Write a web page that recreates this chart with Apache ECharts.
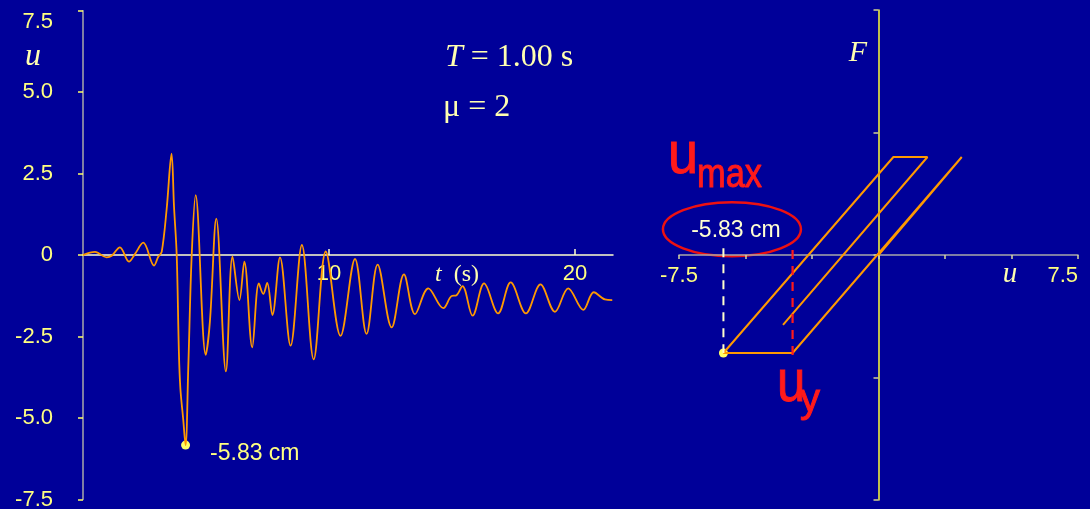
<!DOCTYPE html>
<html>
<head>
<meta charset="utf-8">
<script src="https://cdn.jsdelivr.net/npm/echarts@6/dist/echarts.min.js"></script>
<style>
  html, body { margin: 0; padding: 0; background: #000099; }
  #chart { width: 1090px; height: 509px; }
</style>
</head>
<body>
<div id="chart"></div>
<script>
// Displacement history u(t) of the elastoplastic oscillator (T = 1.00 s, mu = 2)
const timeS = [0, 0.49, 0.96, 1.17, 1.5, 1.87, 2.11, 2.45, 2.89, 3.06, 3.2, 3.4, 3.6, 3.7, 3.81, 3.9, 3.96, 4.07, 4.17, 4.28, 4.42, 4.58, 4.99, 5.16, 5.42, 5.81, 6.08, 6.36, 6.56, 6.88, 7.15, 7.33, 7.49, 7.7, 8.01, 8.44, 8.9, 9.38, 9.87, 10.47, 11.06, 11.53, 11.98, 12.55, 13.05, 13.5, 14.04, 14.65, 14.98, 15.19, 15.43, 15.84, 16.31, 16.88, 17.39, 18.01, 18.6, 19.19, 19.73, 20.34, 20.77, 21.22, 21.52];
const dispCm = [0, 0.1, -0.07, -0.02, 0.24, -0.2, 0.03, 0.38, -0.32, -0.05, 0.1, 1.4, 3.11, 1.5, 0, -3.0, -4.1, -5.0, -5.83, -3.46, 0, 1.84, -3.06, -2.04, 1.12, -3.57, -0.05, -1.38, -0.2, -2.83, -0.87, -1.19, -0.85, -1.84, -0.07, -2.78, 0.31, -3.2, 0.11, -2.48, -0.12, -2.42, -0.29, -2.22, -0.59, -1.81, -1.02, -1.63, -1.26, -1.23, -0.95, -1.86, -0.87, -1.79, -0.84, -1.79, -0.9, -1.74, -1.02, -1.68, -1.14, -1.36, -1.38];

// Force-deformation path (u, F) traced by the system
const loopU = [0, 3.13, -3.23, -5.83, 0.56, 1.84, -3.59];
const loopF = [0, 0.8, -0.8, -0.8, 0.8, 0.8, -0.57];
const yieldDisp = -3.23;   // u_y marker
const yieldForce = -0.8;

// Tick labels
const histXLabels = [10, 20];
const loopXLabels = [-7.5, 7.5];

const YELLOW = '#ffff80';
const PALE = '#ffffb0';
const ORANGE = '#ff9900';
const RED = '#ff1a1a';
const SANS = '"Liberation Sans", Arial, sans-serif';
const SERIF = '"Liberation Serif", "Times New Roman", serif';

// peak (most negative) displacement
let iMin = 0;
dispCm.forEach((v, i) => { if (v < dispCm[iMin]) iMin = i; });
const uMax = dispCm[iMin];
const tAtMax = timeS[iMin];
const fmtCm = v => v.toFixed(2) + ' cm';

const GRID_L = { left: 83, top: 10.7, width: 530, height: 488.8 };
const GRID_R = { left: 679, top: 10, width: 399, height: 490 };

const chart = echarts.init(document.getElementById('chart'), null, { renderer: 'canvas' });

const option = {
  backgroundColor: '#000099',
  animation: false,
  grid: [
    Object.assign({ outerBoundsMode: 'none', containLabel: false }, GRID_L),
    Object.assign({ outerBoundsMode: 'none', containLabel: false }, GRID_R)
  ],
  xAxis: [
    {
      gridIndex: 0, type: 'value', min: 0, max: 21.55, interval: 10, position: 'bottom',
      axisLine: { onZero: false, lineStyle: { color: '#ffffcc', width: 1.5 } },
      axisTick: { inside: true, length: 6, customValues: histXLabels, lineStyle: { color: '#ffffcc', width: 1.5 } },
      axisLabel: { customValues: histXLabels, color: YELLOW, fontSize: 22, fontFamily: SANS, margin: 8 },
      splitLine: { show: false }
    },
    {
      gridIndex: 1, type: 'value', min: -7.5, max: 7.5, interval: 2.5, position: 'bottom',
      axisLine: { onZero: false, lineStyle: { color: '#a8a8a8', width: 1.5 } },
      axisTick: { length: 4, lineStyle: { color: '#d8d8a0', width: 1.5 } },
      axisLabel: { customValues: loopXLabels, color: YELLOW, fontSize: 22, fontFamily: SANS, margin: 10,
        alignMaxLabel: 'right',
        formatter: v => v.toFixed(1) },
      splitLine: { show: false }
    }
  ],
  yAxis: [
    {
      gridIndex: 0, type: 'value', min: -7.5, max: 7.5, interval: 2.5,
      axisLine: { show: true, onZero: false, lineStyle: { color: '#a8a8a8', width: 1.5 } },
      axisTick: { show: true, length: 5, lineStyle: { color: '#ffff66', width: 1.5 } },
      axisLabel: { color: YELLOW, fontSize: 22, fontFamily: SANS, margin: 30,
        verticalAlignMaxLabel: 'top',
        formatter: v => (v === 0 ? '0' : v.toFixed(1)) },
      splitLine: { show: false }
    },
    {
      gridIndex: 1, type: 'value', min: -2, max: 2, interval: 1,
      axisLine: { show: true, onZero: true, lineStyle: { color: '#ffff33', width: 1.5 } },
      axisTick: { show: true, length: 5, lineStyle: { color: '#d0d090', width: 1.5 } },
      axisLabel: { show: false },
      splitLine: { show: false }
    }
  ],
  series: [
    {
      type: 'line', xAxisIndex: 0, yAxisIndex: 0,
      data: timeS.map((t, i) => [t, dispCm[i]]),
      smooth: 0.35, showSymbol: false,
      lineStyle: { color: ORANGE, width: 1.8 }
    },
    {
      type: 'scatter', xAxisIndex: 0, yAxisIndex: 0,
      data: [[tAtMax, uMax]], symbolSize: 9,
      itemStyle: { color: '#ffff66', opacity: 1 },
      label: { show: true, position: 'right', distance: 20, offset: [0, 9], opacity: 1,
        formatter: p => fmtCm(p.value[1]), color: YELLOW, fontSize: 23, fontFamily: SANS }
    },
    {
      type: 'line', xAxisIndex: 1, yAxisIndex: 1,
      data: loopU.map((u, i) => [u, loopF[i]]),
      showSymbol: false,
      lineStyle: { color: ORANGE, width: 2 }
    },
    {
      type: 'line', xAxisIndex: 1, yAxisIndex: 1,
      data: [[uMax, 0.055], [uMax, yieldForce]], showSymbol: false,
      lineStyle: { color: '#ffffcc', width: 2, type: [9, 7] }
    },
    {
      type: 'line', xAxisIndex: 1, yAxisIndex: 1,
      data: [[yieldDisp, 0.04], [yieldDisp, -0.86]], showSymbol: false,
      lineStyle: { color: RED, width: 2.2, type: [9, 7] }
    },
    {
      type: 'scatter', xAxisIndex: 1, yAxisIndex: 1,
      data: [[uMax, yieldForce]], symbolSize: 9,
      itemStyle: { color: '#ffff66', opacity: 1 }
    }
  ]
};
chart.setOption(option);

// move both horizontal axes (with their labels) onto the zero level of their grids
const zeroL = chart.convertToPixel({ yAxisIndex: 0 }, 0);
const zeroR = chart.convertToPixel({ yAxisIndex: 1 }, 0);
chart.setOption({
  xAxis: [
    { offset: zeroL - (GRID_L.top + GRID_L.height) },
    { offset: zeroR - (GRID_R.top + GRID_R.height) }
  ]
});

// annotation ellipse around the peak value, placed in (u, F) coordinates
const c = chart.convertToPixel({ gridIndex: 1 }, [-5.51, 0.21]);

chart.setOption({
  graphic: [
    { type: 'text', x: 445, y: 58, style: { text: '{i|T} = 1.00 s', fontFamily: SERIF, fontSize: 32, fill: PALE, verticalAlign: 'middle',
        rich: { i: { fontStyle: 'italic', fontFamily: SERIF, fontSize: 32, fill: PALE } } } },
    { type: 'text', x: 443, y: 108, style: { text: 'μ = 2', fontFamily: SERIF, fontSize: 32, fill: PALE, verticalAlign: 'middle' } },
    { type: 'text', x: 435, y: 275, style: { text: '{i|t}  (s)', fontFamily: SERIF, fontSize: 24, fill: PALE, verticalAlign: 'middle',
        rich: { i: { fontStyle: 'italic', fontFamily: SERIF, fontSize: 24, fill: PALE } } } },
    { type: 'text', x: 33, y: 57, style: { text: 'u', fontFamily: SERIF, fontStyle: 'italic', fontSize: 32, fill: PALE, align: 'center', verticalAlign: 'middle' } },
    { type: 'text', x: 858, y: 53, style: { text: 'F', fontFamily: SERIF, fontStyle: 'italic', fontSize: 30, fill: PALE, align: 'center', verticalAlign: 'middle' } },
    { type: 'text', x: 1010, y: 274, style: { text: 'u', fontFamily: SERIF, fontStyle: 'italic', fontSize: 29, fill: PALE, align: 'center', verticalAlign: 'middle' } },
    { type: 'ellipse', shape: { cx: c[0], cy: c[1], rx: 69, ry: 27 }, style: { fill: 'none', stroke: '#ee1111', lineWidth: 2.5 } },
    { type: 'text', x: c[0] + 4, y: c[1] + 1, style: { text: fmtCm(uMax), fontFamily: SANS, fontSize: 23, fill: '#ffffd0', align: 'center', verticalAlign: 'middle' } },
    { type: 'text', x: 668, y: 156, scaleX: 0.9, style: { text: 'u', fontFamily: SANS, fontSize: 60, fill: RED, stroke: RED, lineWidth: 1, verticalAlign: 'middle' } },
    { type: 'text', x: 697, y: 176, scaleX: 0.86, style: { text: 'max', fontFamily: SANS, fontSize: 40, fill: RED, stroke: RED, lineWidth: 1, verticalAlign: 'middle' } },
    { type: 'text', x: 777, y: 384, scaleX: 0.85, style: { text: 'u', fontFamily: SANS, fontSize: 60, fill: RED, stroke: RED, lineWidth: 1, verticalAlign: 'middle' } },
    { type: 'text', x: 800, y: 401, style: { text: 'y', fontFamily: SANS, fontSize: 40, fill: RED, stroke: RED, lineWidth: 1, verticalAlign: 'middle' } }
  ]
});
</script>
</body>
</html>
